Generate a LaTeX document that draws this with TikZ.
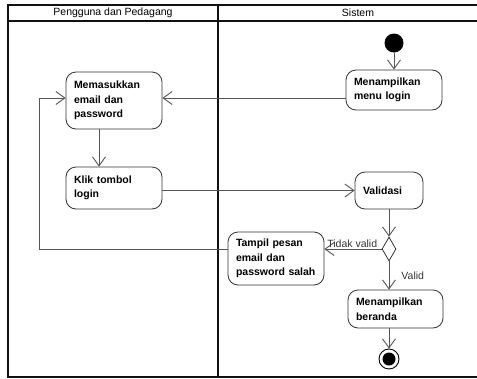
\documentclass[tikz,border=0pt]{standalone}
\usepackage{fontspec}
\setmainfont{Liberation Sans}
\usetikzlibrary{shapes.geometric, arrows.meta, positioning}
\definecolor{lanegray}{HTML}{111111}
\definecolor{flowgray}{HTML}{555555}
\definecolor{boxgray}{HTML}{333333}

\begin{document}
\begin{tikzpicture}[x=1pt, y=-1pt, font=\fontsize{10.5}{14.5}\selectfont,
	lane/.style={lanegray, line width=1.8pt},
	act/.style={draw=boxgray, line width=0.8pt, rounded corners=10pt, align=left,
		inner xsep=8pt, inner ysep=0pt, font=\fontsize{10.5}{14.5}\selectfont\bfseries},
	flow/.style={flowgray, line width=0.9pt, -{Straight Barb[length=9pt, width=13pt]}},
	guard/.style={font=\fontsize{10.5}{12}\selectfont, text=boxgray, inner sep=1pt}]
	\useasboundingbox (0,0) rectangle (477,378);
	\clip (0,0) rectangle (477,378);
	% swimlanes
	\draw[lane] (8,5) rectangle (498,377);
	\draw[lane] (8,21) -- (498,21);
	\draw[lane] (218,5) -- (218,377);
	\node (lane1) at (113,13) {Pengguna dan Pedagang};
	\node (lane2) at (358,13) {Sistem};
	% activities
	\node[circle, fill=black, minimum size=19pt, inner sep=0pt] (start) at (394,43) {};
	\node[act, text width=80pt, minimum height=40pt] (menu) at (394,90) {Menampilkan\\menu login};
	\node[act, text width=80pt, minimum height=57pt] (masuk) at (114,100.5) {Memasukkan\\email dan\\password};
	\node[act, text width=80pt, minimum height=42pt] (klik) at (114,188) {Klik tombol\\login};
	\node[act, text width=52pt, minimum height=37pt] (valid) at (389,190.5) {Validasi\\[-4pt]};
	\node[diamond, draw=boxgray, line width=0.8pt, minimum width=14pt, minimum height=24pt, inner sep=0pt] (cek) at (389,249) {};
	\node[act, text width=80pt, minimum height=53pt] (tampil) at (276,258.5) {Tampil pesan\\email dan\\password salah};
	\node[act, text width=79pt, minimum height=38pt] (beranda) at (395.5,309) {Menampilkan\\beranda};
	\node[circle, draw=black, line width=0.9pt, minimum size=20pt, inner sep=0pt] (end) at (389,359) {};
	\fill (end.center) circle (6.5pt);
	% flows
	\coordinate (in1) at ([yshift=2.5pt]masuk.east);
	\coordinate (in2) at ([yshift=2.5pt]masuk.west);
	\coordinate (back) at (39,249);
	\draw[flow] (start) -- (menu);
	\draw[flow] (menu.west |- in1) -- (in1);
	\draw[flow] ([xshift=-15pt]masuk.south) -- ([xshift=-15pt]masuk.south |- klik.north);
	\draw[flow] (klik.east |- valid.west) -- (valid.west);
	\draw[flow] (valid.south) -- (cek.north);
	\draw[flow] (cek.west) -- (tampil.east |- cek.west)
		node[guard, pos=0, above left, xshift=-3pt] {Tidak valid};
	\draw[flow] (cek.south) -- (cek.south |- beranda.north)
		node[guard, midway, right, xshift=11pt] {Valid};
	\draw[flow] (end |- beranda.south) -- (end.north);
	\draw[flow] ([yshift=9.5pt]tampil.west) -- (back) |- (in2);
\end{tikzpicture}
\end{document}
